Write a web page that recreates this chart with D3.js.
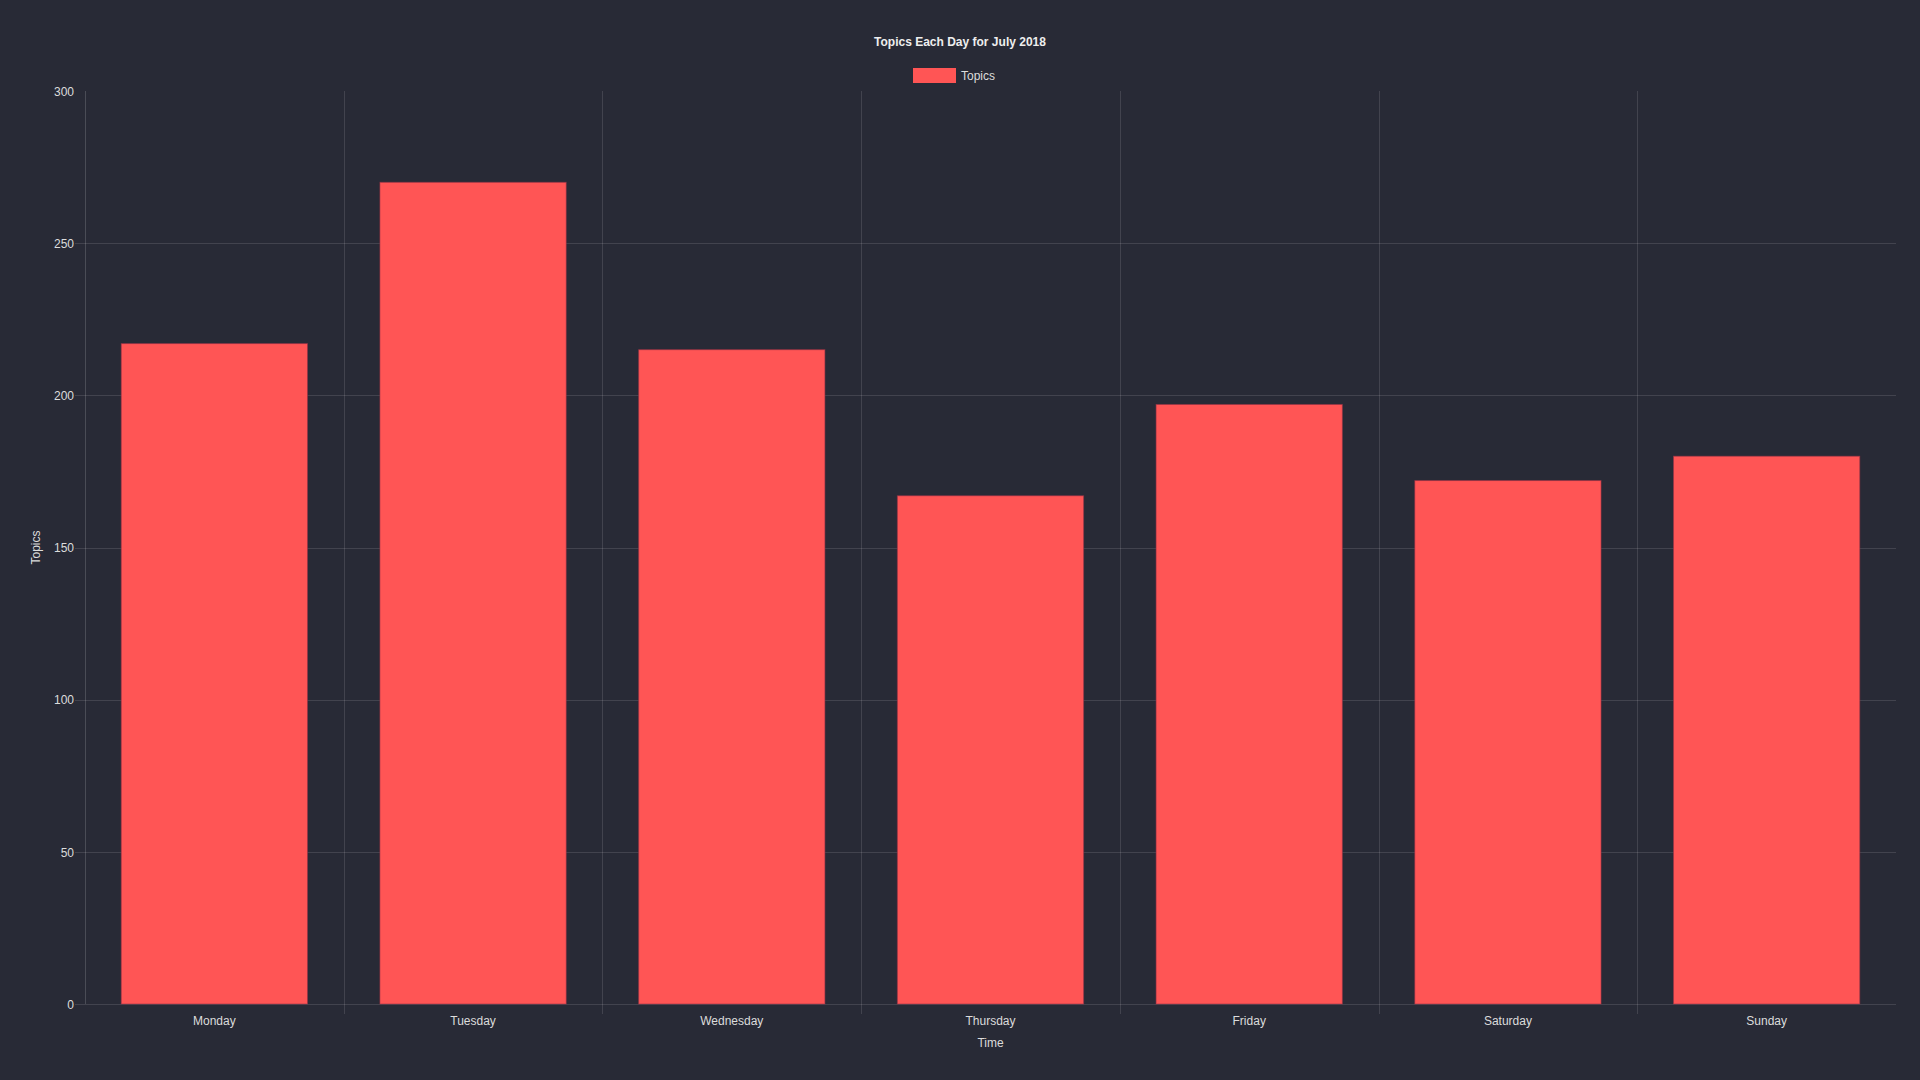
<!DOCTYPE html>
<html><head><meta charset="utf-8">
<script src="https://cdn.jsdelivr.net/npm/d3@7"></script>
<style>html,body{margin:0;padding:0;background:#282a36;}svg{display:block;}</style>
</head><body><svg id="c" width="1920" height="1080"></svg>
<script>
const days = ["Monday","Tuesday","Wednesday","Thursday","Friday","Saturday","Sunday"];
const topics = [217, 270, 215, 167, 197, 172, 180];
const yTicks = [0, 50, 100, 150, 200, 250, 300];
const seriesName = "Topics";
const titleText = "Topics Each Day for July 2018";

const W = 1920, H = 1080;
const m = {left: 85, right: 1896, top: 91, bottom: 1004};
const font = "'Liberation Sans', Helvetica, Arial, sans-serif";
const textCol = "#dcdcdc";
const gridCol = "rgba(255,255,255,0.12)";
const svg = d3.select("#c");
svg.append("rect").attr("width", W).attr("height", H).attr("fill", "#282a36");

const x = d3.scaleBand().domain(days).range([m.left, m.right]).paddingInner(0).paddingOuter(0);
const y = d3.scaleLinear().domain([0, 300]).range([m.bottom, m.top]);

// horizontal grid (no line at the top value)
const gy = svg.append("g");
gy.selectAll("line").data(yTicks.filter(d => d !== 300)).join("line")
  .attr("x1", m.left - 10).attr("x2", m.right)
  .attr("y1", d => Math.round(y(d)) + 0.5).attr("y2", d => Math.round(y(d)) + 0.5)
  .attr("stroke", gridCol).attr("stroke-width", 1);
// vertical grid (inner category boundaries)
const bounds = days.slice(1).map(d => x(d));
svg.append("g").selectAll("line").data(bounds).join("line")
  .attr("x1", d => Math.round(d) + 0.5).attr("x2", d => Math.round(d) + 0.5)
  .attr("y1", m.top).attr("y2", m.bottom + 10)
  .attr("stroke", gridCol).attr("stroke-width", 1);
// left axis line
svg.append("line").attr("x1", m.left + 0.5).attr("x2", m.left + 0.5).attr("y1", m.top).attr("y2", m.bottom)
  .attr("stroke", "rgba(255,255,255,0.16)").attr("stroke-width", 1);

// bars
const bw = x.bandwidth() * 0.72;
svg.append("g").selectAll("rect").data(topics).join("rect")
  .attr("x", (d, i) => x(days[i]) + (x.bandwidth() - bw) / 2)
  .attr("width", bw)
  .attr("y", d => y(d))
  .attr("height", d => y(0) - y(d))
  .attr("fill", "#ff5555")
  .attr("stroke", "rgba(150,50,70,0.6)").attr("stroke-width", 1);

// y tick labels
const yAxis = d3.axisLeft(y).tickValues(yTicks).tickSize(0).tickPadding(0);
const ga = svg.append("g").attr("transform", `translate(${m.left - 11},0)`).call(yAxis);
ga.select(".domain").remove();
ga.selectAll("text").attr("fill", textCol).style("font-family", font).style("font-size", "12px").attr("dy", "0.35em");

// x tick labels
const xAxis = d3.axisBottom(x).tickSize(0).tickPadding(0);
const gx = svg.append("g").attr("transform", `translate(0,${m.bottom + 17})`).call(xAxis);
gx.select(".domain").remove();
gx.selectAll("text").attr("fill", textCol).style("font-family", font).style("font-size", "12px").attr("dy", "0.35em");

// axis titles
svg.append("text").attr("x", (m.left + m.right) / 2).attr("y", 1043).attr("dy", "0.35em")
  .attr("text-anchor", "middle").attr("fill", textCol).style("font-family", font).style("font-size", "12px").text("Time");
svg.append("text").attr("transform", `translate(36,${(m.top + m.bottom) / 2}) rotate(-90)`).attr("dy", "0.35em")
  .attr("text-anchor", "middle").attr("fill", textCol).style("font-family", font).style("font-size", "12px").text(seriesName);

// title
svg.append("text").attr("x", 960).attr("y", 42).attr("dy", "0.35em").attr("text-anchor", "middle")
  .attr("fill", "#eeeeee").style("font-family", font).style("font-size", "12px").style("font-weight", "bold").text(titleText);

// legend
svg.append("rect").attr("x", 913).attr("y", 68).attr("width", 43).attr("height", 15).attr("fill", "#ff5555");
svg.append("text").attr("x", 961).attr("y", 75.5).attr("dy", "0.35em").attr("fill", textCol)
  .style("font-family", font).style("font-size", "12px").text(seriesName);
</script></body></html>
